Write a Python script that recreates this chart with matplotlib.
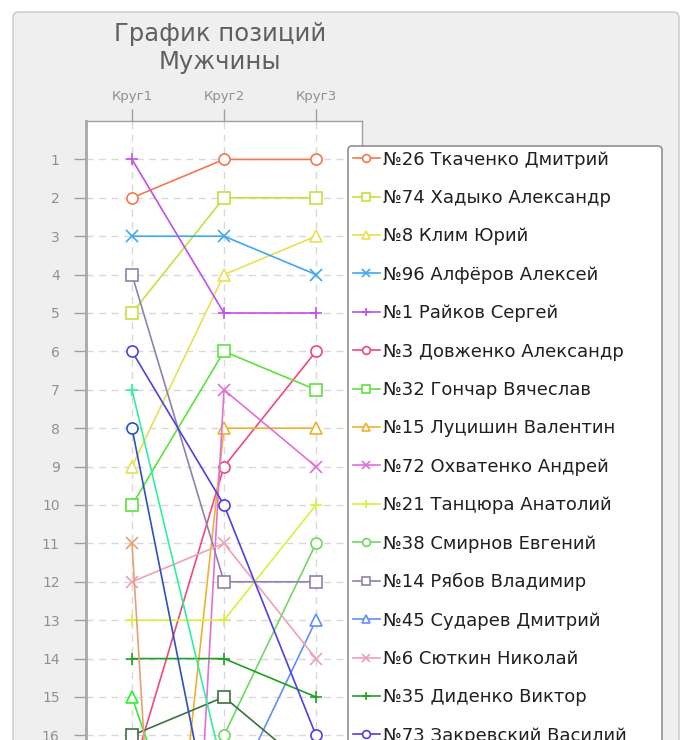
import matplotlib
matplotlib.use('Agg')
import matplotlib.pyplot as plt
from matplotlib.patches import FancyBboxPatch

# positions after each lap (1 = leader); riders sorted by lap 3
rounds = ['Круг1', 'Круг2', 'Круг3']
riders = ['№26 Ткаченко Дмитрий', '№74 Хадыко Александр', '№8 Клим Юрий',
          '№96 Алфёров Алексей', '№1 Райков Сергей', '№3 Довженко Александр',
          '№32 Гончар Вячеслав', '№15 Луцишин Валентин', '№72 Охватенко Андрей',
          '№21 Танцюра Анатолий', '№38 Смирнов Евгений', '№14 Рябов Владимир',
          '№45 Сударев Дмитрий', '№6 Сюткин Николай', '№35 Диденко Виктор',
          '№73 Закревский Василий',
          # the rest of the field is cut off at the bottom of the picture
          '_r17', '_r18', '_r19', '_r20', '_r21']
pos_lap1 = [2, 5, 9, 3, 1, 17, 10, 30, 50, 13, 25, 4, 20, 12, 14, 6, 16, 15, 11, 7, 8]
pos_lap2 = [1, 2, 4, 3, 5, 9, 6, 8, 7, 13, 16, 12, 18, 11, 14, 10, 15, 22, 50, 17, 20]
pos_lap3 = [1, 2, 3, 4, 5, 6, 7, 8, 9, 10, 11, 12, 13, 14, 15, 16, 17, 18, 19, 20, 21]
colors = ['#f07a50', '#c4e040', '#e8e050', '#40a8f0', '#c050e8', '#f04880',
          '#60e040', '#f0b030', '#e070d8', '#d8f040', '#70d860', '#9080b0',
          '#6090f8', '#f0a0b8', '#20a020', '#5040e0',
          '#407040', '#30f030', '#e8a070', '#30f0a0', '#3050c0']
markers = ['o', 's', '^', 'x', '+']

W, H = 681, 740
fig = plt.figure(figsize=(W / 100, H / 100), dpi=100)
fig.patch.set_facecolor('white')

# grey rounded panel behind everything
panel = FancyBboxPatch((13 / W, -0.2), 666 / W, 1.2 - 12 / H,
                       boxstyle='round,pad=0,rounding_size=0.008',
                       transform=fig.transFigure, facecolor='#efefef',
                       edgecolor='#c8c8c8', linewidth=1.0, zorder=-10)
fig.patches.append(panel)

fig.text(220 / W, 1 - 48 / H, 'График позиций\nМужчины', ha='center', va='center',
         fontsize=17.5, color='#606060', linespacing=1.2)

max_rank = 56
px_rank = 38.4
top = 121
ax_h = px_rank * max_rank
ax = fig.add_axes([86 / W, (H - top - ax_h) / H, 276 / W, ax_h / H])
ax.set_facecolor('white')

xs = [1, 2, 3]
for i, name in enumerate(riders):
    ys = [pos_lap1[i], pos_lap2[i], pos_lap3[i]]
    ax.plot(xs, ys, color=colors[i], marker=markers[i % 5], markersize=8,
            markerfacecolor='white' if markers[i % 5] in 'os^' else colors[i],
            markeredgewidth=1.2, linewidth=1.2, label=name)

ax.set_xlim(0.5, 3.5)
ax.set_ylim(max_rank, 0)
ax.set_xticks(xs)
ax.set_xticklabels(rounds)
ax.set_yticks(range(1, 17))
ax.xaxis.tick_top()
ax.tick_params(axis='x', colors='#a0a0a0', labelcolor='#909090', labelsize=9.5,
               length=9, width=1, pad=4, direction='out')
ax.tick_params(axis='y', colors='#a0a0a0', labelcolor='#909090', labelsize=10,
               length=9, width=1, pad=10, direction='out')
ax.grid(True, color='#d8d8d8', linestyle=(0, (5, 4)), linewidth=1)
ax.set_axisbelow(True)
for side in ['top', 'right', 'bottom']:
    ax.spines[side].set_color('#a0a0a0')
    ax.spines[side].set_linewidth(1)
ax.spines['left'].set_color('#a8a8a8')
ax.spines['left'].set_linewidth(2)

leg = ax.legend(loc='upper left',
                bbox_to_anchor=(348 / W, 1 - 146 / H, 314 / W, 0.0),
                bbox_transform=fig.transFigure, mode='expand', fontsize=13,
                markerscale=0.7, handlelength=1.5, handletextpad=0.2,
                labelspacing=1.13, borderpad=0.25, borderaxespad=0,
                fancybox=True, framealpha=1, edgecolor='#909090',
                facecolor='white')
leg.get_frame().set_linewidth(1.2)
for t in leg.get_texts():
    t.set_color('#202020')

fig.savefig('out.png', dpi=100)
